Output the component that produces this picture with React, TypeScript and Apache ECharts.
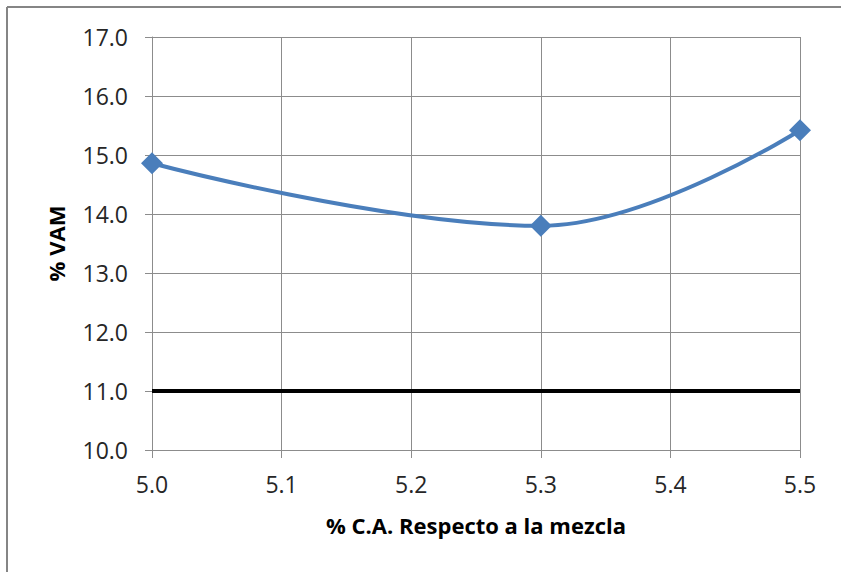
import React, { useEffect, useRef } from "react";
import * as echarts from "echarts";

const xValues = [5.0, 5.3, 5.5];
const vamValues = [14.86, 13.8, 15.42];
const limitX = [5.0, 5.5];
const limitY = [11.0, 11.0];
const xAxisName = "% C.A. Respecto a la mezcla";
const yAxisName = "% VAM";

export default function App() {
  const ref = useRef<HTMLDivElement>(null);
  useEffect(() => {
    document.body.style.margin = "0";
    const chart = echarts.init(ref.current!, undefined, { renderer: "svg" });
    const font = "'Open Sans', 'Liberation Sans', sans-serif";
    chart.setOption({
      animation: false,
      backgroundColor: "#ffffff",
      grid: { left: 152, right: 41, top: 37, bottom: 122, containLabel: false },
      graphic: [
        { type: "line", shape: { x1: 7, y1: 7, x2: 841, y2: 7 }, style: { stroke: "#858585", lineWidth: 2 } },
        { type: "line", shape: { x1: 7, y1: 7, x2: 7, y2: 572 }, style: { stroke: "#858585", lineWidth: 2 } },
      ],
      xAxis: {
        type: "value",
        min: 5.0,
        max: 5.5,
        interval: 0.1,
        name: xAxisName,
        nameLocation: "middle",
        nameGap: 64,
        nameTextStyle: { fontFamily: font, fontSize: 22, fontWeight: "bold", color: "#000" },
        axisLine: { show: true, lineStyle: { color: "#8c8c8c", width: 1 } },
        axisTick: { show: true, length: 8, lineStyle: { color: "#8c8c8c" } },
        axisLabel: {
          margin: 22,
          fontFamily: font,
          fontSize: 23,
          color: "#262626",
          formatter: (v: number) => v.toFixed(1),
        },
        splitLine: { show: true, lineStyle: { color: "#8c8c8c", width: 1 } },
      },
      yAxis: {
        type: "value",
        min: 10,
        max: 17,
        interval: 1,
        name: yAxisName,
        nameLocation: "middle",
        nameGap: 85,
        nameRotate: 90,
        nameTextStyle: { fontFamily: font, fontSize: 22, fontWeight: "bold", color: "#000" },
        axisLine: { show: true, lineStyle: { color: "#8c8c8c", width: 1 } },
        axisTick: { show: true, length: 7, lineStyle: { color: "#8c8c8c" } },
        axisLabel: {
          margin: 24,
          fontFamily: font,
          fontSize: 23,
          color: "#262626",
          formatter: (v: number) => v.toFixed(1),
        },
        splitLine: { show: true, lineStyle: { color: "#8c8c8c", width: 1 } },
      },
      series: [
        {
          type: "line",
          data: limitX.map((x, i) => [x, limitY[i]]),
          symbol: "none",
          lineStyle: { color: "#000000", width: 4 },
          z: 2,
        },
        {
          type: "line",
          data: xValues.map((x, i) => [x, vamValues[i]]),
          smooth: 0.4,
          symbol: "diamond",
          symbolSize: 22,
          itemStyle: { color: "#4a7ebb" },
          lineStyle: { color: "#4a7ebb", width: 4 },
          z: 3,
        },
      ],
    });
    return () => chart.dispose();
  }, []);
  return <div ref={ref} style={{ width: 841, height: 572 }} />;
}
